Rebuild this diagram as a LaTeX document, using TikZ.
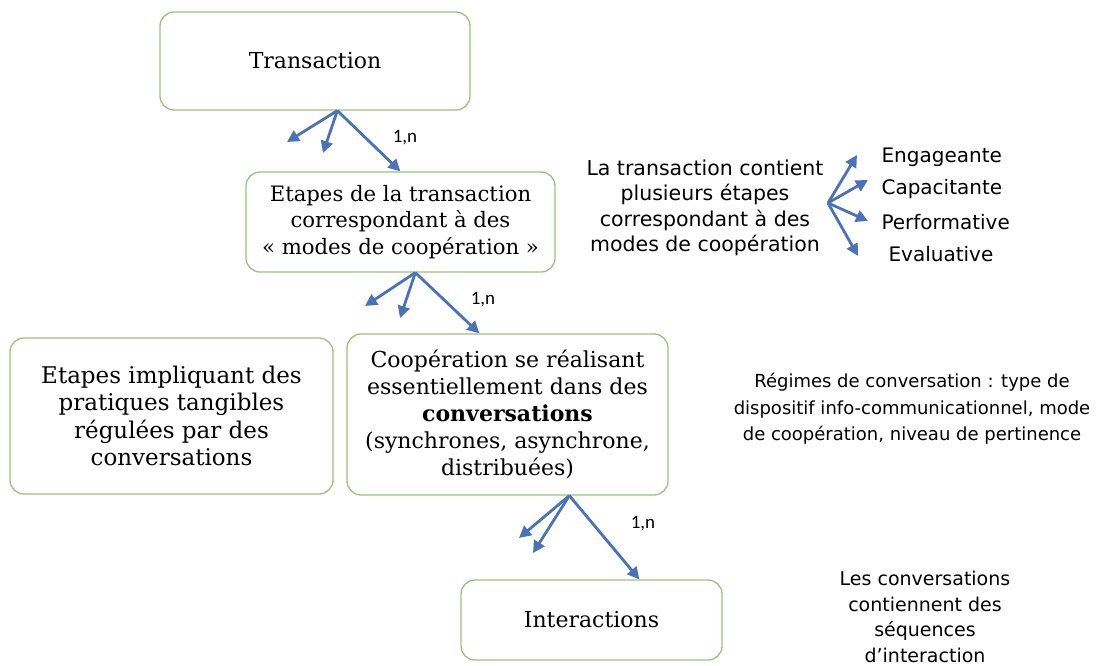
\documentclass[tikz,border=0pt]{standalone}
\usepackage{fontspec}
\setmainfont{DejaVu Serif}
\newfontfamily\hand{DejaVu Sans}
\newfontfamily\lab{Carlito}
\usetikzlibrary{arrows.meta,calc}
\definecolor{boxgreen}{HTML}{9DC07A}
\definecolor{arrblue}{HTML}{4A72B8}
\begin{document}
\begin{tikzpicture}[x=1pt,y=-1pt,
 box/.style={draw=boxgreen, line width=1.3pt, rounded corners=14pt, align=center, inner sep=0pt, font=\fontsize{22}{27}\selectfont},
 arr/.style={draw=arrblue, line width=2.8pt, -{Triangle[length=12pt,width=12pt]}},
 lbl/.style={font=\lab\fontsize{19}{20}\selectfont},
 note/.style={font=\hand, align=center}]
\useasboundingbox (0,0) rectangle (1109,666);

\node[box, minimum width=310pt, minimum height=98pt] (t) at (315,61) {Transaction};
\node[box, minimum width=309pt, minimum height=100pt, font=\fontsize{21.2}{26.5}\selectfont] (e) at (400.5,222) {Etapes de la transaction\\correspondant à des\\« modes de coopération »};
\node[box, minimum width=323pt, minimum height=156pt, font=\fontsize{23}{27.5}\selectfont] (p) at (171.5,416) {Etapes impliquant des\\pratiques tangibles\\régulées par des\\conversations};
\node[box, minimum width=321pt, minimum height=161pt] (c) at (507.5,414.5) {Coopération se réalisant\\essentiellement dans des\\\textbf{conversations}\\(synchrones, asynchrone,\\distribuées)};
\node[box, minimum width=261pt, minimum height=80pt] (i) at (591.5,620) {Interactions};

% arrows group 1
\coordinate (o1) at ($(t.south west)+(178,0)$);
\coordinate (a1) at (287,142);
\coordinate (b1) at (323,153);
\draw[arr] (o1) -- (a1);
\draw[arr] (o1) -- (b1);
\draw[arr] (o1) -- ($(e.north west)+(155,0)$);
\node[lbl] (l1) at (405,138) {1,n};

% arrows group 2
\coordinate (o2) at ($(e.south west)+(170,0)$);
\coordinate (a2) at (365,306);
\coordinate (b2) at (400,318);
\draw[arr] (o2) -- (a2);
\draw[arr] (o2) -- (b2);
\draw[arr] (o2) -- ($(c.north west)+(133,0)$);
\node[lbl] (l2) at (483,300) {1,n};

% arrows group 3
\coordinate (o3) at ($(c.south west)+(223,0)$);
\coordinate (a3) at (519,538);
\coordinate (b3) at (533,553);
\draw[arr] (o3) -- (a3);
\draw[arr] (o3) -- (b3);
\draw[arr] (o3) -- ($(i.north west)+(179,0)$);
\node[lbl] (l3) at (643,524) {1,n};

% right notes
\node[note, font=\hand\fontsize{20.5}{25.5}\selectfont] (n1) at (705,208) {La transaction contient\\plusieurs étapes\\correspondant à des\\modes de coopération};
\coordinate (o4) at (828,203);
\node[note, anchor=west, font=\hand\fontsize{20}{22}\selectfont] (w1) at (878,157) {Engageante};
\node[note, anchor=west, font=\hand\fontsize{20}{22}\selectfont] (w2) at (878,189) {Capacitante};
\node[note, anchor=west, font=\hand\fontsize{20}{22}\selectfont] (w3) at (878,222) {Performative};
\node[note, anchor=west, font=\hand\fontsize{20}{22}\selectfont] (w4) at (885,254) {Evaluative};
\draw[arr] (o4) -- (857,155);
\draw[arr] (o4) -- (868,180);
\draw[arr] (o4) -- (868,221);
\draw[arr] (o4) -- (858,256);

\node[note, font=\hand\fontsize{18}{26.5}\selectfont] (n2) at (912,409) {Régimes de conversation : type de\\dispositif info-communicationnel, mode\\de coopération, niveau de pertinence};
\node[note, font=\hand\fontsize{19}{25.5}\selectfont] (n3) at (925,617) {Les conversations\\contiennent des\\séquences\\d’interaction};
\end{tikzpicture}
\end{document}
